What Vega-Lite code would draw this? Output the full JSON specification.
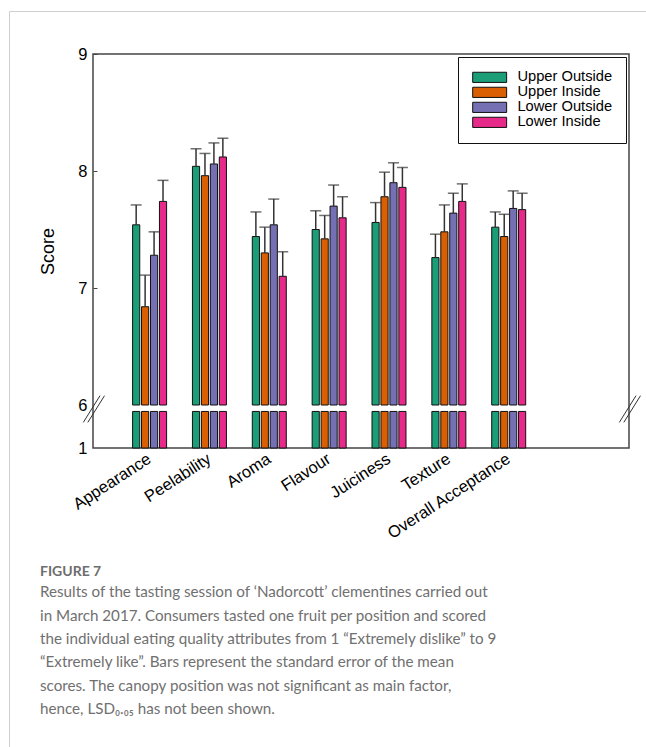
{
  "$schema": "https://vega.github.io/schema/vega-lite/v6.json",
  "autosize": "none",
  "width": 536,
  "height": 394,
  "padding": {"left": 93, "top": 54, "right": 17, "bottom": 299},
  "background": "white",
  "config": {
    "view": {"stroke": "#444", "strokeWidth": 1.5},
    "font": "Liberation Sans"
  },
  "datasets": {
    "scores": [
      {"attribute": "Appearance", "position": "Upper Outside", "score": 7.54, "upper": 7.71},
      {"attribute": "Appearance", "position": "Upper Inside", "score": 6.84, "upper": 7.11},
      {"attribute": "Appearance", "position": "Lower Outside", "score": 7.28, "upper": 7.48},
      {"attribute": "Appearance", "position": "Lower Inside", "score": 7.74, "upper": 7.92},
      {"attribute": "Peelability", "position": "Upper Outside", "score": 8.04, "upper": 8.19},
      {"attribute": "Peelability", "position": "Upper Inside", "score": 7.96, "upper": 8.15},
      {"attribute": "Peelability", "position": "Lower Outside", "score": 8.06, "upper": 8.24},
      {"attribute": "Peelability", "position": "Lower Inside", "score": 8.12, "upper": 8.28},
      {"attribute": "Aroma", "position": "Upper Outside", "score": 7.44, "upper": 7.65},
      {"attribute": "Aroma", "position": "Upper Inside", "score": 7.30, "upper": 7.52},
      {"attribute": "Aroma", "position": "Lower Outside", "score": 7.54, "upper": 7.76},
      {"attribute": "Aroma", "position": "Lower Inside", "score": 7.10, "upper": 7.31},
      {"attribute": "Flavour", "position": "Upper Outside", "score": 7.50, "upper": 7.66},
      {"attribute": "Flavour", "position": "Upper Inside", "score": 7.42, "upper": 7.62},
      {"attribute": "Flavour", "position": "Lower Outside", "score": 7.70, "upper": 7.88},
      {"attribute": "Flavour", "position": "Lower Inside", "score": 7.60, "upper": 7.78},
      {"attribute": "Juiciness", "position": "Upper Outside", "score": 7.56, "upper": 7.73},
      {"attribute": "Juiciness", "position": "Upper Inside", "score": 7.78, "upper": 7.99},
      {"attribute": "Juiciness", "position": "Lower Outside", "score": 7.90, "upper": 8.07},
      {"attribute": "Juiciness", "position": "Lower Inside", "score": 7.86, "upper": 8.03},
      {"attribute": "Texture", "position": "Upper Outside", "score": 7.26, "upper": 7.46},
      {"attribute": "Texture", "position": "Upper Inside", "score": 7.48, "upper": 7.71},
      {"attribute": "Texture", "position": "Lower Outside", "score": 7.64, "upper": 7.81},
      {"attribute": "Texture", "position": "Lower Inside", "score": 7.74, "upper": 7.89},
      {"attribute": "Overall Acceptance", "position": "Upper Outside", "score": 7.52, "upper": 7.65},
      {"attribute": "Overall Acceptance", "position": "Upper Inside", "score": 7.44, "upper": 7.63},
      {"attribute": "Overall Acceptance", "position": "Lower Outside", "score": 7.68, "upper": 7.83},
      {"attribute": "Overall Acceptance", "position": "Lower Inside", "score": 7.67, "upper": 7.81}
    ],
    "edges": [
      {"edge": 0},
      {"edge": 1}
    ],
    "caption": [
      {
        "heading": "FIGURE 7",
        "lines": [
          "Results of the tasting session of ‘Nadorcott’ clementines carried out",
          "in March 2017. Consumers tasted one fruit per position and scored",
          "the individual eating quality attributes from 1 “Extremely dislike” to 9",
          "“Extremely like”. Bars represent the standard error of the mean",
          "scores. The canopy position was not significant as main factor,",
          "hence, LSD₀.₀₅ has not been shown."
        ]
      }
    ]
  },
  "layer": [
    {
      "data": {"name": "scores"},
      "encoding": {
        "x": {
          "field": "attribute",
          "type": "nominal",
          "sort": null,
          "scale": {"range": [39.6, 432.7], "paddingInner": 0.432, "paddingOuter": 0},
          "axis": {
            "title": null,
            "ticks": false,
            "domain": false,
            "labelAngle": -33,
            "labelAlign": "right",
            "labelBaseline": "middle",
            "labelPadding": 9,
            "labelFontSize": 16.5,
            "labelColor": "#000",
            "labelFont": "Liberation Sans"
          }
        },
        "xOffset": {
          "field": "position",
          "type": "nominal",
          "sort": ["Upper Outside", "Upper Inside", "Lower Outside", "Lower Inside"],
          "scale": {"paddingInner": 0.2, "paddingOuter": 0}
        }
      },
      "layer": [
        {
          "mark": {"type": "bar", "stroke": "#111", "strokeWidth": 1},
          "encoding": {
            "y": {
              "field": "score",
              "type": "quantitative",
              "scale": {"domain": [1, 6, 9], "range": [394, 351, 0], "nice": false, "zero": false},
              "axis": {
                "values": [1, 6, 7, 8, 9],
                "title": "Score",
                "titleFontSize": 18,
                "titleFontWeight": "normal",
                "titleColor": "#000",
                "titlePadding": 20,
                "domain": false,
                "grid": false,
                "tickSize": -4,
                "tickColor": "#444",
                "tickWidth": 1,
                "tickOpacity": {"condition": {"test": "datum.value < 7", "value": 0}, "value": 1},
                "labelPadding": 10,
                "labelFontSize": 16.5,
                "labelColor": "#000"
              }
            },
            "y2": {"datum": 6},
            "color": {
              "field": "position",
              "type": "nominal",
              "sort": ["Upper Outside", "Upper Inside", "Lower Outside", "Lower Inside"],
              "scale": {
                "domain": ["Upper Outside", "Upper Inside", "Lower Outside", "Lower Inside"],
                "range": ["#1b9e77", "#d95f02", "#7570b3", "#e7298a"]
              },
              "legend": {
                "title": null,
                "orient": "top-right",
                "offset": 3,
                "strokeColor": "#111",
                "padding": 13,
                "symbolType": "M-1,-0.9H5V0.9H-1Z",
                "symbolSize": 128,
                "symbolStrokeColor": "#111",
                "symbolStrokeWidth": 1,
                "symbolOpacity": 1,
                "labelFontSize": 14.7,
                "labelFont": "Liberation Sans",
                "labelColor": "#000",
                "labelOffset": 31.7,
                "rowPadding": -1.6
              }
            }
          }
        },
        {
          "mark": {"type": "bar", "stroke": "#111", "strokeWidth": 1},
          "encoding": {
            "y": {"datum": 1, "type": "quantitative"},
            "y2": {"datum": 5.25},
            "color": {"field": "position", "type": "nominal"}
          }
        },
        {
          "mark": {"type": "rule", "color": "#333", "strokeWidth": 1.5},
          "encoding": {
            "y": {"field": "score", "type": "quantitative"},
            "y2": {"field": "upper"}
          }
        },
        {
          "mark": {"type": "tick", "orient": "horizontal", "size": 11, "thickness": 1.5, "color": "#333"},
          "encoding": {
            "y": {"field": "upper", "type": "quantitative"}
          }
        }
      ]
    },
    {
      "data": {"name": "edges"},
      "encoding": {
        "x": {"field": "edge", "type": "quantitative", "scale": {"domain": [0, 1], "nice": false, "zero": false}, "axis": null},
        "x2": {"field": "edge"},
        "y": {"datum": 6, "type": "quantitative"},
        "y2": {"datum": 6}
      },
      "layer": [
        {
          "mark": {"type": "rule", "color": "#333", "strokeWidth": 1, "xOffset": -9.7, "x2Offset": 7, "yOffset": 17.4, "y2Offset": -9.3}
        },
        {
          "mark": {"type": "rule", "color": "#333", "strokeWidth": 1, "xOffset": -5.2, "x2Offset": 11.5, "yOffset": 17.4, "y2Offset": -9.3}
        }
      ]
    },
    {
      "data": {"name": "caption"},
      "encoding": {
        "x": {"datum": 0, "type": "quantitative", "scale": {"domain": [0, 1], "nice": false, "zero": false}, "axis": null},
        "y": {"datum": 1, "type": "quantitative"}
      },
      "layer": [
        {
          "mark": {"type": "text", "align": "left", "baseline": "alphabetic", "font": "Lato", "fontSize": 14, "fontWeight": "bold", "color": "#6d6d6d", "xOffset": -53, "yOffset": 128},
          "encoding": {"text": {"field": "heading"}}
        },
        {
          "mark": {"type": "text", "align": "left", "baseline": "alphabetic", "font": "Lato", "fontSize": 15.2, "lineHeight": 23.4, "color": "#707070", "xOffset": -53, "yOffset": 149.3},
          "encoding": {"text": {"field": "lines"}}
        }
      ]
    },
    {
      "data": {"values": [{"side": "page"}]},
      "layer": [
        {
          "mark": {"type": "rule", "color": "#cfcfcf", "strokeWidth": 1, "xOffset": -83.5, "x2Offset": 17, "yOffset": -42.5, "y2Offset": -42.5},
          "encoding": {
            "x": {"datum": 0, "type": "quantitative", "scale": {"domain": [0, 1], "nice": false, "zero": false}, "axis": null},
            "x2": {"datum": 1},
            "y": {"datum": 9, "type": "quantitative"},
            "y2": {"datum": 9}
          }
        },
        {
          "mark": {"type": "rule", "color": "#cfcfcf", "strokeWidth": 1, "xOffset": -83.5, "x2Offset": -83.5, "yOffset": -42.5, "y2Offset": 299},
          "encoding": {
            "x": {"datum": 0, "type": "quantitative", "scale": {"domain": [0, 1], "nice": false, "zero": false}, "axis": null},
            "x2": {"datum": 0},
            "y": {"datum": 9, "type": "quantitative"},
            "y2": {"datum": 1}
          }
        }
      ]
    }
  ],
  "resolve": {"scale": {"x": "independent"}}
}
